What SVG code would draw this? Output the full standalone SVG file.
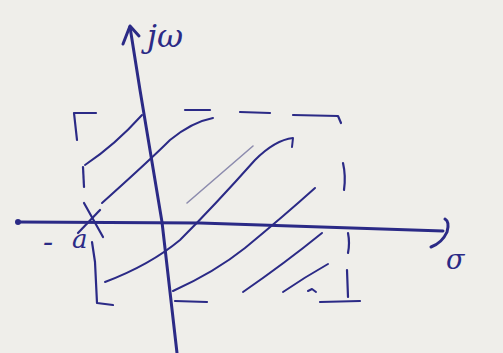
<svg xmlns="http://www.w3.org/2000/svg" width="503" height="353" viewBox="0 0 503 353">
<style>
.ink{fill:none;stroke:#2b2a86;stroke-linecap:round;stroke-linejoin:round}
.ax{stroke-width:3}
.h{stroke-width:2}
.b{stroke-width:2.2}
.lbl{font-family:"DejaVu Serif","Liberation Serif",serif;fill:#2b2a86;font-style:italic}
</style>
<rect width="503" height="353" fill="#efeeea"/>
<g id="connectors">
<path class="ink ax" d="M130,27 L140,90 L162,222 L177,353"/>
<path class="ink ax" d="M123,44 L130,26 L139,36"/>
<path class="ink ax" d="M18,222 L200,223 L443,231"/>
<circle cx="18" cy="222" r="3" fill="#2b2a86"/>
<path class="ink ax" d="M445,219 Q450,222 447,232 Q442,243 431,247"/>
</g>
<g id="pole">
<path class="ink b" d="M84,203 L103,237"/>
<path class="ink b" d="M78,233 L100,210"/>
</g>
<g id="region">
<path class="ink b" d="M77,140 L74,113 L96,113"/>
<path class="ink b" d="M185,110 L210,110"/>
<path class="ink b" d="M240,112 L270,113"/>
<path class="ink b" d="M293,115 L338,116 L341,123"/>
<path class="ink b" d="M343,163 Q346,176 344,190"/>
<path class="ink b" d="M348,233 Q350,243 348,253"/>
<path class="ink b" d="M347,270 L348,297"/>
<path class="ink b" d="M320,302 L360,301"/>
<path class="ink b" d="M175,301 L207,302"/>
<path class="ink b" d="M83,167 L84,187"/>
<path class="ink b" d="M92,242 L95,262 L97,303 L113,305"/>
</g>
<g id="hatch">
<path class="ink h" d="M85,165 Q115,145 142,115"/>
<path class="ink h" d="M102,203 Q150,160 170,140 Q192,122 213,118"/>
<path class="ink" style="stroke:#8d8cae;stroke-width:1.6" d="M187,203 Q225,170 253,146"/>
<path class="ink h" d="M105,282 Q150,265 180,240 Q215,205 255,160 Q275,140 293,138 L292,147"/>
<path class="ink h" d="M173,291 Q215,272 245,248 Q285,215 315,188"/>
<path class="ink h" d="M243,292 Q285,263 322,233"/>
<path class="ink h" d="M283,292 Q305,277 328,264"/>
<path class="ink h" d="M308,291 L312,289 L316,292"/>
</g>
<g id="labels">
<text class="lbl" x="147" y="47" font-size="32">jω</text>
<text class="lbl" x="446" y="269" font-size="27">σ</text>
<text class="lbl" x="43" y="252" font-size="30">-</text>
<text class="lbl" x="72" y="248" font-size="26">a</text>
</g>
</svg>
